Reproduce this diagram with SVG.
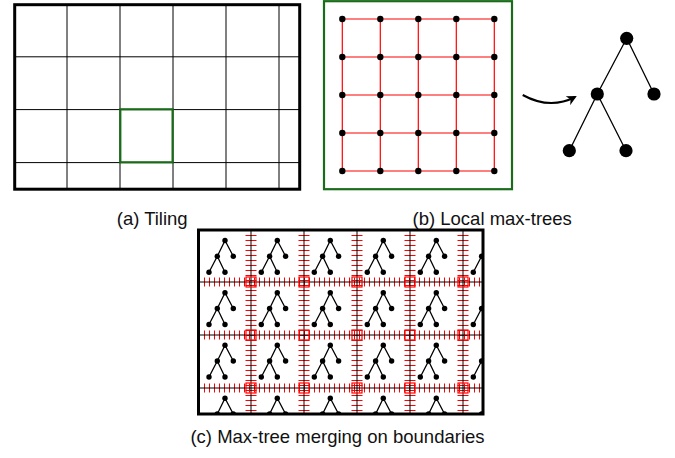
<svg xmlns="http://www.w3.org/2000/svg" width="675" height="458" viewBox="0 0 675 458">
<style>
  .lbl { font-family: "Liberation Sans", Arial, sans-serif; font-size: 18.5px; fill: #111; text-anchor: middle; }
  .border { fill: none; stroke: #000; stroke-width: 3; }
  .grid { stroke: #000; stroke-width: 1; fill: none; }
  .green { fill: none; stroke: #1a6b1a; stroke-width: 2.2; }
  .redln { stroke: #f00; stroke-width: 1.2; fill: none; }
  .dot { fill: #000; }
  .edge { stroke: #000; stroke-width: 1.3; fill: none; }
  .tickh { stroke: #f00; stroke-width: 9; stroke-dasharray: 1 4; fill: none; }
  .tickv { stroke: #f00; stroke-width: 11; stroke-dasharray: 1 4; fill: none; }
  .sq { fill: none; stroke: #f00; stroke-width: 1.2; }
</style>
<defs>
  <g id="st">
    <path class="edge" d="M0,0 L-7.7,15.7 M0,0 L8.3,15.7 M-7.7,15.7 L-16,31.7 M-7.7,15.7 L0,31.7" stroke-width="1"/>
    <circle class="dot" cx="0" cy="0" r="2.7"/>
    <circle class="dot" cx="-7.7" cy="15.7" r="2.7"/>
    <circle class="dot" cx="8.3" cy="15.7" r="2.7"/>
    <circle class="dot" cx="-16" cy="31.7" r="2.7"/>
    <circle class="dot" cx="0" cy="31.7" r="2.7"/>
  </g>
  <clipPath id="cc"><rect x="198.5" y="230" width="284.5" height="184"/></clipPath>
  <marker id="ah" viewBox="0 0 10 10" refX="8" refY="5" markerWidth="10" markerHeight="10" markerUnits="userSpaceOnUse" orient="auto">
    <path d="M0,0 L10,5 L0,10 L3,5 Z" fill="#000"/>
  </marker>
</defs>

<!-- (a) Tiling -->
<g id="tiling">
  <path class="grid" d="M67,4.7 V189.2 M120,4.7 V189.2 M173,4.7 V189.2 M226,4.7 V189.2 M279,4.7 V189.2 M14.7,56.8 H299.7 M14.7,109.6 H299.7 M14.7,162.6 H299.7"/>
  <rect class="green" x="120.3" y="109.3" width="52.3" height="53"/>
  <rect class="border" x="14.7" y="4.7" width="285" height="184.5"/>
  <text class="lbl" x="152.2" y="224.5">(a) Tiling</text>
</g>

<!-- (b) Local tile graph -->
<g id="tile">
  <rect class="green" x="324" y="1.2" width="188" height="188"/>
  <path class="redln" d="M342.3,19 H494.3 M342.3,57 H494.3 M342.3,95 H494.3 M342.3,133 H494.3 M342.3,171 H494.3 M342.3,19 V171 M380.3,19 V171 M418.3,19 V171 M456.3,19 V171 M494.3,19 V171"/>
  <g class="dot">
    <circle cx="342.3" cy="19" r="3.2"/><circle cx="380.3" cy="19" r="3.2"/><circle cx="418.3" cy="19" r="3.2"/><circle cx="456.3" cy="19" r="3.2"/><circle cx="494.3" cy="19" r="3.2"/>
    <circle cx="342.3" cy="57" r="3.2"/><circle cx="380.3" cy="57" r="3.2"/><circle cx="418.3" cy="57" r="3.2"/><circle cx="456.3" cy="57" r="3.2"/><circle cx="494.3" cy="57" r="3.2"/>
    <circle cx="342.3" cy="95" r="3.2"/><circle cx="380.3" cy="95" r="3.2"/><circle cx="418.3" cy="95" r="3.2"/><circle cx="456.3" cy="95" r="3.2"/><circle cx="494.3" cy="95" r="3.2"/>
    <circle cx="342.3" cy="133" r="3.2"/><circle cx="380.3" cy="133" r="3.2"/><circle cx="418.3" cy="133" r="3.2"/><circle cx="456.3" cy="133" r="3.2"/><circle cx="494.3" cy="133" r="3.2"/>
    <circle cx="342.3" cy="171" r="3.2"/><circle cx="380.3" cy="171" r="3.2"/><circle cx="418.3" cy="171" r="3.2"/><circle cx="456.3" cy="171" r="3.2"/><circle cx="494.3" cy="171" r="3.2"/>
  </g>
  <text class="lbl" x="492.2" y="224.5">(b) Local max-trees</text>
</g>

<!-- connectors -->
<g id="connectors">
  <path d="M522.7,95 Q550,110 575,97" fill="none" stroke="#000" stroke-width="2" marker-end="url(#ah)"/>
</g>

<!-- big max-tree -->
<g id="maxtree">
  <path class="edge" d="M626.7,38.3 L597.3,94 M626.7,38.3 L654,94 M597.3,94 L569.3,150.7 M597.3,94 L626,150.7"/>
  <circle class="dot" cx="626.7" cy="38.3" r="6.6"/>
  <circle class="dot" cx="597.3" cy="94" r="6.6"/>
  <circle class="dot" cx="654" cy="94" r="6.6"/>
  <circle class="dot" cx="569.3" cy="150.7" r="6.6"/>
  <circle class="dot" cx="626" cy="150.7" r="6.6"/>
</g>

<!-- (c) merging -->
<g id="merging">
  <g clip-path="url(#cc)">
    <use href="#st" x="225" y="240.5"/><use href="#st" x="277.3" y="240.5"/><use href="#st" x="330.3" y="240.5"/><use href="#st" x="383.3" y="240.5"/><use href="#st" x="436.3" y="240.5"/><use href="#st" x="489.3" y="240.5"/>
    <use href="#st" x="225" y="292.8"/><use href="#st" x="277.3" y="292.8"/><use href="#st" x="330.3" y="292.8"/><use href="#st" x="383.3" y="292.8"/><use href="#st" x="436.3" y="292.8"/><use href="#st" x="489.3" y="292.8"/>
    <use href="#st" x="225" y="345.3"/><use href="#st" x="277.3" y="345.3"/><use href="#st" x="330.3" y="345.3"/><use href="#st" x="383.3" y="345.3"/><use href="#st" x="436.3" y="345.3"/><use href="#st" x="489.3" y="345.3"/>
    <use href="#st" x="225" y="398.3"/><use href="#st" x="277.3" y="398.3"/><use href="#st" x="330.3" y="398.3"/><use href="#st" x="383.3" y="398.3"/><use href="#st" x="436.3" y="398.3"/><use href="#st" x="489.3" y="398.3"/>
    <path class="tickh" d="M199,282 H484 M199,335 H484 M199,388 H484"/>
    <path class="tickv" d="M251,230 V414 M304,230 V414 M357,230 V414 M410,230 V414 M463,230 V414"/>
    <path class="grid" d="M251,230 V414 M304,230 V414 M357,230 V414 M410,230 V414 M463,230 V414"/>
    <path class="grid" stroke="#444" d="M198.5,282 H483 M198.5,335 H483 M198.5,388 H483"/>
    <g class="sq">
      <rect x="246" y="277" width="10" height="10"/><rect x="299" y="277" width="10" height="10"/><rect x="352" y="277" width="10" height="10"/><rect x="405" y="277" width="10" height="10"/><rect x="458" y="277" width="10" height="10"/>
      <rect x="246" y="330" width="10" height="10"/><rect x="299" y="330" width="10" height="10"/><rect x="352" y="330" width="10" height="10"/><rect x="405" y="330" width="10" height="10"/><rect x="458" y="330" width="10" height="10"/>
      <rect x="246" y="383" width="10" height="10"/><rect x="299" y="383" width="10" height="10"/><rect x="352" y="383" width="10" height="10"/><rect x="405" y="383" width="10" height="10"/><rect x="458" y="383" width="10" height="10"/>
    </g>
  </g>
  <rect class="border" x="198.5" y="230" width="284.5" height="184"/>
  <text class="lbl" x="337.5" y="442.5">(c) Max-tree merging on boundaries</text>
</g>
</svg>
